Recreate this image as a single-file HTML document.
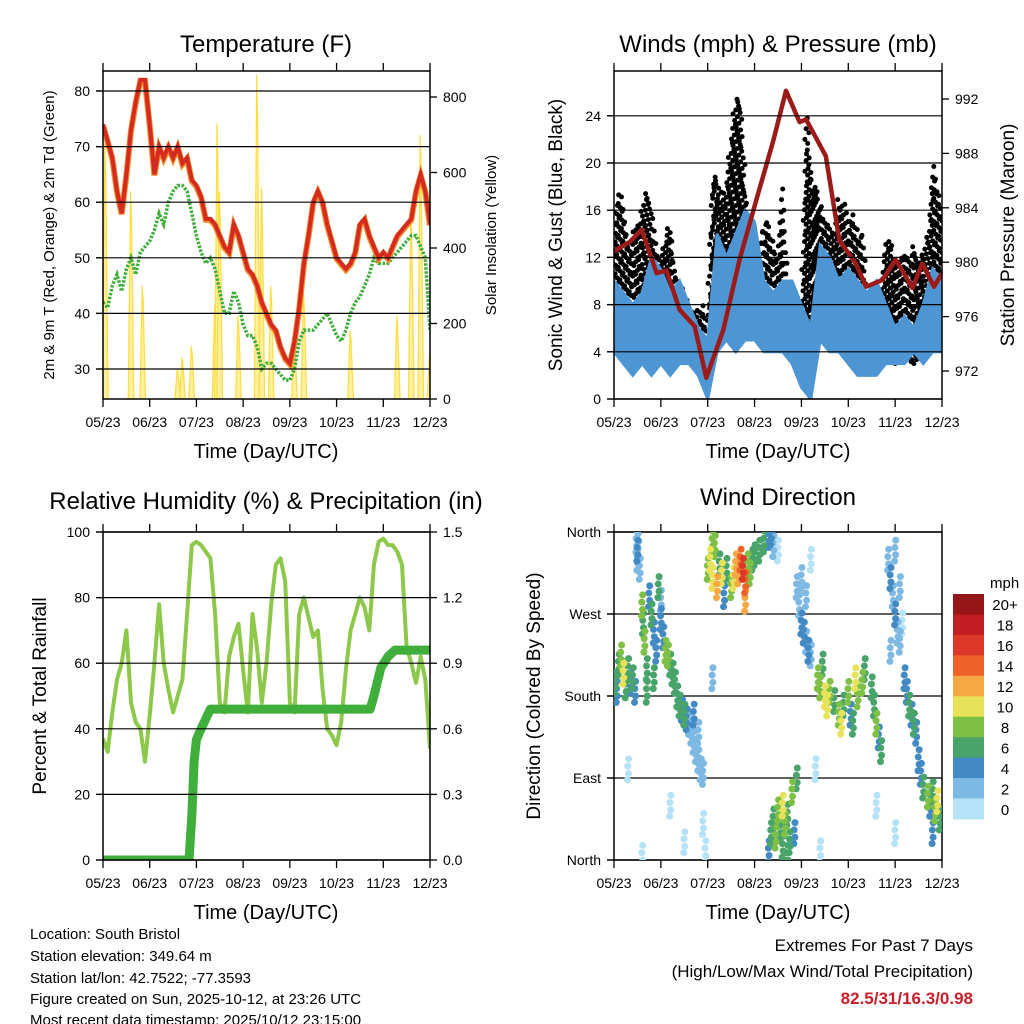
<!DOCTYPE html>
<html><head><meta charset="utf-8"><style>
html,body{margin:0;padding:0;background:#fff}
svg{display:block;font-family:"Liberation Sans",sans-serif}
</style></head><body>
<svg id="svg" width="1024" height="1024" viewBox="0 0 1024 1024">
<defs>
<clipPath id="c1"><rect x="103" y="71" width="327" height="328"/></clipPath>
<clipPath id="c2"><rect x="614" y="71" width="328" height="328"/></clipPath>
<clipPath id="c3"><rect x="103" y="532" width="327" height="328"/></clipPath>
<clipPath id="c4"><rect x="614" y="532" width="328" height="328"/></clipPath>
</defs>
<text x="266" y="52" font-size="24" text-anchor="middle">Temperature (F)</text>
<text x="778" y="52" font-size="24" text-anchor="middle">Winds (mph) &amp; Pressure (mb)</text>
<text x="266" y="509" font-size="24" text-anchor="middle">Relative Humidity (%) &amp; Precipitation (in)</text>
<text x="778" y="505" font-size="24" text-anchor="middle">Wind Direction</text>
<text x="266" y="458" font-size="20" text-anchor="middle">Time (Day/UTC)</text>
<text x="778" y="458" font-size="20" text-anchor="middle">Time (Day/UTC)</text>
<text x="266" y="919" font-size="20" text-anchor="middle">Time (Day/UTC)</text>
<text x="778" y="919" font-size="20" text-anchor="middle">Time (Day/UTC)</text>
<text transform="translate(54,235) rotate(-90)" font-size="15" text-anchor="middle">2m &amp; 9m T (Red, Orange) &amp; 2m Td (Green)</text>
<text transform="translate(496,235) rotate(-90)" font-size="15" text-anchor="middle">Solar Insolation (Yellow)</text>
<text transform="translate(562,235) rotate(-90)" font-size="19" text-anchor="middle">Sonic Wind &amp; Gust (Blue, Black)</text>
<text transform="translate(1014,235) rotate(-90)" font-size="19" text-anchor="middle">Station Pressure (Maroon)</text>
<text transform="translate(46,696) rotate(-90)" font-size="19" text-anchor="middle">Percent &amp; Total Rainfall</text>
<text transform="translate(540,696) rotate(-90)" font-size="19" text-anchor="middle">Direction (Colored By Speed)</text>
<g font-size="15">
<text x="30" y="939">Location: South Bristol</text>
<text x="30" y="961">Station elevation: 349.64 m</text>
<text x="30" y="983">Station lat/lon: 42.7522; -77.3593</text>
<text x="30" y="1004">Figure created on Sun, 2025-10-12, at 23:26 UTC</text>
<text x="30" y="1025">Most recent data timestamp: 2025/10/12 23:15:00</text>
</g>
<g font-size="17" text-anchor="end">
<text x="973" y="951">Extremes For Past 7 Days</text>
<text x="973" y="977">(High/Low/Max Wind/Total Precipitation)</text>
<text x="973" y="1004" fill="#c8202a" font-weight="bold">82.5/31/16.3/0.98</text>
</g>
<text x="990" y="588" font-size="15">mph</text>
</svg>
<script>
// ---------- data ----------
const monthLabels=["05/23","06/23","07/23","08/23","09/23","10/23","11/23","12/23"];
const tempT=[0,0.1,0.2,0.3,0.4,0.5,0.6,0.7,0.8,0.9,1.0,1.1,1.2,1.3,1.4,1.5,1.6,1.7,1.8,1.9,2.0,2.1,2.2,2.3,2.4,2.5,2.6,2.7,2.8,2.9,3.0,3.1,3.2,3.3,3.4,3.5,3.6,3.7,3.8,3.9,4.0,4.1,4.2,4.3,4.4,4.5,4.6,4.7,4.8,4.9,5.0,5.1,5.2,5.3,5.4,5.5,5.6,5.7,5.8,5.9,6.0,6.1,6.2,6.3,6.4,6.5,6.6,6.7,6.8,6.9,7.0];
const tempRed=[74,71,68,62,58,65,73,78,82,82,74,65,70,68,70,68,70,67,68,64,63,61,57,57,56,54,52,51,56,54,51,48,47,45,42,40,38,37,34,32,31,35,41,49,54,60,62,60,56,53,50,49,48,49,51,56,57,54,52,50,51,50,52,54,55,56,57,62,65,62,56];
const tempDew=[42,41,45,47,44,48,50,47,51,52,53,55,58,56,60,62,63,63,62,58,54,51,49,50,48,44,40,40,44,42,38,36,36,34,30,31,31,30,29,28,28,30,35,37,37,37,38,39,40,38,36,35,37,40,42,43,45,47,50,49,49,49,50,51,52,53,54,54,52,50,37];
const solarT=[0.05,0.6,0.85,1.6,1.7,1.9,2.4,2.45,2.5,2.9,3.3,3.4,3.6,4.1,4.3,5.3,6.3,6.6,6.8,7.0];
const solarPeak=[680,550,300,80,110,140,250,730,550,220,860,560,300,150,280,180,220,500,700,120];
const pressT=[0,0.34,0.59,0.91,1.12,1.40,1.72,1.97,2.33,2.68,3.04,3.39,3.67,3.96,4.1,4.52,4.81,5.16,5.38,5.73,6.01,6.37,6.58,6.83,7.0];
const pressMb=[980.8,981.5,982.4,979.2,979.4,976.5,975.3,971.5,975,980.2,984.6,988.8,992.6,990.3,990.5,987.8,981.6,979.9,978.2,978.7,980.2,978.1,979.9,978.2,979.2];
const windT=[0,0.2,0.4,0.6,0.8,1.0,1.2,1.4,1.6,1.8,2.0,2.2,2.4,2.6,2.8,3.0,3.2,3.4,3.6,3.8,4.0,4.2,4.4,4.6,4.8,5.0,5.2,5.4,5.6,5.8,6.0,6.2,6.4,6.6,6.8,7.0];
const windHigh=[10,9,8,9,12,11,9,10,8,6,5,14,12,14,16,15,10,9,10,10,8,6,13,12,10,11,10,9,10,8,6,7,6,8,11,10];
const windLow=[4,3,2,3,2,3,2,3,3,2,0,4,5,4,5,5,4,4,4,3,1,0,5,4,4,3,2,2,2,3,3,3,4,3,4,4];
const gustT=tempT;
const gustMax=[15,18,16,13,14,15,16,18,16,13,12,14,15,11,10,9,8,7,8,8,6,19,19,17,18,22,26,25,18,14,13,13,15,15,13,12,18,9,7,6,5,24,20,18,17,15,15,14,17,17,15,16,14,14,8,7,7,9,14,13,12,12,13,12,13,12,13,14,20,18,16];
const rhT=tempT;
const rhVal=[37,33,45,55,60,70,48,42,40,30,44,60,78,60,52,45,50,55,75,96,97,96,94,92,75,48,45,62,68,72,58,45,75,64,48,60,78,90,92,85,48,45,75,80,74,68,70,52,40,38,35,42,58,70,75,80,77,70,90,97,98,96,96,94,90,65,60,54,62,55,34];
const precipT=[0,1.84,1.9,1.95,2.0,2.1,2.3,5.72,5.8,5.95,6.1,6.25,7.0];
const precipIn=[0,0,0.2,0.45,0.55,0.6,0.69,0.69,0.75,0.88,0.93,0.96,0.96];
const wdT=[0.02,0.06,0.1,0.15,0.2,0.25,0.3,0.35,0.4,0.45,0.48,0.5,0.52,0.5,0.55,0.6,0.62,0.65,0.7,0.75,0.8,0.85,0.9,0.95,1.0,1.05,0.7,0.85,1.0,1.1,1.15,1.2,1.25,1.3,1.35,1.4,1.45,1.5,1.55,1.6,1.65,1.7,1.75,1.8,1.85,1.9,1.7,1.8,1.9,2.0,2.05,2.1,2.15,2.2,2.25,2.3,2.4,2.5,2.55,2.6,2.65,2.7,2.75,2.8,2.85,2.9,2.95,3.0,3.1,3.2,3.3,3.35,3.4,2.35,2.8,2.1,3.3,3.35,3.4,3.45,3.5,3.55,3.6,3.65,3.7,3.75,3.8,3.85,3.9,3.6,3.7,3.9,3.95,4.0,4.05,4.1,4.15,4.2,4.0,4.1,4.2,4.35,4.4,4.5,4.55,4.6,4.7,4.8,4.85,4.9,5.0,5.05,5.1,5.2,5.3,5.35,4.45,5.15,5.5,5.55,5.6,5.65,5.7,5.85,5.9,5.95,6.0,6.05,6.1,6.0,6.1,5.9,6.15,6.2,6.25,6.3,6.35,6.4,6.45,6.5,6.55,6.6,6.7,6.75,6.8,6.85,6.9,6.95,6.8,0.3,0.6,1.2,1.5,1.95,2.1,3.5,4.3,4.4,5.6,6.0];
const wdDir=[195,185,215,225,205,190,210,195,200,185,350,340,355,330,320,280,260,240,210,290,270,250,230,300,265,245,185,200,285,230,225,215,205,195,180,170,165,160,155,150,140,130,120,110,100,95,160,140,40,320,330,310,345,300,325,315,320,300,310,325,315,330,320,305,325,315,330,335,340,350,355,358,345,290,285,350,10,30,45,25,55,35,60,40,50,20,75,30,90,15,5,300,280,260,250,240,230,225,310,290,330,200,190,180,170,185,175,160,150,170,185,160,150,180,195,210,215,200,190,170,150,135,120,330,310,290,270,250,240,340,300,230,260,200,185,170,160,150,140,110,95,80,70,60,75,55,65,45,30,100,5,60,20,10,200,340,100,10,60,30];
const wdSpd=[6,4,7,8,10,6,7,4,6,5,3,4,3,3,2,8,7,9,7,4,6,5,4,6,5,4,6,7,3,8,9,7,6,6,7,6,5,6,4,3,2,3,2,3,2,3,4,3,1,8,11,10,9,12,7,10,6,8,11,13,12,15,16,14,9,8,7,6,6,6,5,4,3,5,13,9,4,6,7,8,9,7,10,8,7,6,8,5,7,6,7,2,3,4,4,3,4,3,3,2,1,8,9,11,10,8,7,9,10,6,8,5,7,9,8,7,7,10,7,6,8,5,6,3,4,3,4,3,2,2,3,2,1,4,5,6,4,7,5,4,5,6,8,5,7,9,10,6,4,1,1,1,1,1,2,1,1,1,1,1];
const cbLabels=["20+","18","16","14","12","10","8","6","4","2","0"];
const cbColors=["#951619","#c11d23","#dc3729","#ee6229","#f6a845","#e7e25a","#7dc045","#48a46b","#438ac4","#7eb9e3","#b5e2f7"];

// ---------- helpers ----------
const NS="http://www.w3.org/2000/svg";
const svg=document.getElementById('svg');
function mk(tag,attrs,parent){const e=document.createElementNS(NS,tag);for(const k in attrs)e.setAttribute(k,attrs[k]);(parent||svg).appendChild(e);return e;}
function xs(x0,x1){return t=>x0+t*(x1-x0)/7;}
function interp(T,V,t){if(t<=T[0])return V[0];for(let i=1;i<T.length;i++){if(t<=T[i]){const f=(t-T[i-1])/(T[i]-T[i-1]);return V[i-1]+f*(V[i]-V[i-1]);}}return V[V.length-1];}
function spdColor(s){let idx=Math.min(10,Math.floor(s/2));return cbColors[10-idx];}
function linePath(T,V,fx,fy){return T.map((t,i)=>(i?'L':'M')+fx(t).toFixed(1)+','+fy(V[i]).toFixed(1)).join('');}

function axes(name,x0,x1,y0,y1,leftVals,leftLbls,fyL,rightVals,rightLbls,fyR,grid){
  const g=mk('g',{});
  
  
  const fx=xs(x0,x1);
  if(grid){leftVals.forEach(v=>{const l=mk('line',{x1:x0-7,x2:x1,y1:fyL(v),y2:fyL(v),stroke:'#000','stroke-width':1.2},g);});}
  mk('rect',{x:x0,y:y0,width:x1-x0,height:y1-y0,fill:'none',stroke:'#000','stroke-width':1.5},g);
  monthLabels.forEach((lb,i)=>{const x=fx(i);
    mk('line',{x1:x,x2:x,y1:y1,y2:y1+8,stroke:'#000','stroke-width':1.3},g);
    mk('line',{x1:x,x2:x,y1:y0,y2:y0-8,stroke:'#000','stroke-width':1.3},g);
    const t=mk('text',{x:x,y:y1+28,'font-size':14,'text-anchor':'middle'},g);t.textContent=lb;
    
    });
  leftVals.forEach((v,i)=>{const y=fyL(v);mk('line',{x1:x0-7,x2:x0,y1:y,y2:y,stroke:'#000','stroke-width':1.3},g);
    const t=mk('text',{x:x0-13,y:y+5,'font-size':14,'text-anchor':'end'},g);t.textContent=leftLbls[i];
    
    });
  if(rightVals)rightVals.forEach((v,i)=>{const y=fyR(v);mk('line',{x1:x1,x2:x1+7,y1:y,y2:y,stroke:'#000','stroke-width':1.3},g);
    const t=mk('text',{x:x1+13,y:y+5,'font-size':14},g);t.textContent=rightLbls[i];
    
    });
}

// ---------- panel 1: temperature ----------
{const fx=xs(103,430),fy=v=>369-(v-30)*5.56,fyR=v=>399-v*0.3775;
 const g=mk('g',{'clip-path':'url(#c1)'});
 
 
 solarT.forEach((t,i)=>{const p=mk('path',{d:`M${fx(t-0.06)},399L${fx(t-0.01)},${fyR(solarPeak[i])}L${fx(t+0.01)},${fyR(solarPeak[i]*0.85)}L${fx(t+0.06)},399`,fill:'#fff0a0',stroke:'#ffdc40','stroke-width':1.2},g);
  
  });
 const dp=mk('path',{d:linePath(tempT,tempDew,fx,fy),fill:'none',stroke:'#41ad3b','stroke-width':3.5,'stroke-dasharray':'2.5,1.5'},g);
 
 
 const op=mk('path',{d:linePath(tempT,tempRed,fx,v=>fy(v)+1),fill:'none',stroke:'#f28a2a','stroke-width':6},g);
 
 
 const rp=mk('path',{d:linePath(tempT,tempRed,fx,fy),fill:'none',stroke:'#d42a20','stroke-width':4},g);
 
 
 axes('temperature',103,430,71,399,[30,40,50,60,70,80],["30","40","50","60","70","80"],fy,[0,200,400,600,800],["0","200","400","600","800"],fyR,true);
}

// ---------- panel 2: winds & pressure ----------
{const fx=xs(614,942),fy=v=>399-v*11.8,fyR=p=>371-(p-972)*13.6;
 const g=mk('g',{'clip-path':'url(#c2)'});
 
 
 const gd=mk('g',{fill:'#000'},g);
 
 
 for(let k=0;k<=210;k++){const t=k/30;const top=interp(gustT,gustMax,t);const base=interp(windT,windHigh,t)-3;
   let n=0;
   for(let v=base;v<=top;v+=0.9){n++;const c=mk('circle',{cx:fx(t)+((k+n)%3-1)*1.2,cy:fy(v),r:2.5},gd);
     
     }}
 let d='';windT.forEach((t,i)=>{d+=(i?'L':'M')+fx(t)+','+fy(windHigh[i]);});
 for(let i=windT.length-1;i>=0;i--)d+='L'+fx(windT[i])+','+fy(windLow[i]);
 const band=mk('path',{d:d+'Z',fill:'#4e96d3',stroke:'#4e96d3','stroke-width':3},g);
 
 
 const pp=mk('path',{d:linePath(pressT,pressMb,fx,fyR),fill:'none',stroke:'#9b1b1b','stroke-width':4.5,'stroke-linejoin':'round'},g);
 
 
 axes('winds',614,942,71,399,[0,4,8,12,16,20,24],["0","4","8","12","16","20","24"],fy,[972,976,980,984,988,992],["972","976","980","984","988","992"],fyR,true);
}

// ---------- panel 3: RH & precip ----------
{const fx=xs(103,430),fy=v=>860-v*3.28,fyR=v=>860-v/1.5*328;
 const g=mk('g',{'clip-path':'url(#c3)'});
 
 
 const rh=mk('path',{d:linePath(rhT,rhVal,fx,fy),fill:'none',stroke:'#8dc84b','stroke-width':4,'stroke-linejoin':'round'},g);
 
 
 const pr=mk('path',{d:linePath(precipT,precipIn,fx,fyR),fill:'none',stroke:'#3fae3b','stroke-width':9,'stroke-linejoin':'round'},g);
 
 
 axes('humidity',103,430,532,860,[0,20,40,60,80,100],["0","20","40","60","80","100"],fy,[0,0.3,0.6,0.9,1.2,1.5],["0.0","0.3","0.6","0.9","1.2","1.5"],fyR,true);
}

// ---------- panel 4: wind direction ----------
{const fx=xs(614,942),fy=d=>860-d*328/360;
 axes('wind-direction',614,942,532,860,[0,90,180,270,360],["North","East","South","West","North"],fy,null,null,null,true);
 const g=mk('g',{'clip-path':'url(#c4)'});
 
 
 const order=wdT.map((t,i)=>i).sort((a,b)=>wdSpd[a]-wdSpd[b]);
 const offs=[[-0.012,-12],[0.01,-5],[-0.006,3],[0.012,11]];
 order.forEach(i=>{offs.forEach(o=>{const c=mk('circle',{cx:fx(wdT[i]+o[0]),cy:fy(wdDir[i]+o[1]),r:3.5,fill:spdColor(wdSpd[i])},g);
   
   });});
 const cb=mk('g',{});
 
 
 const h=225/cbColors.length;
 cbColors.forEach((c,i)=>{const r=mk('rect',{x:953,y:594+i*h,width:31,height:h+0.5,fill:c},cb);
   
   
   const t=mk('text',{x:1005,y:594+i*h+h/2+6,'font-size':15,'text-anchor':'middle'},cb);t.textContent=cbLabels[i];
   
   });
}
</script>
</body></html>
